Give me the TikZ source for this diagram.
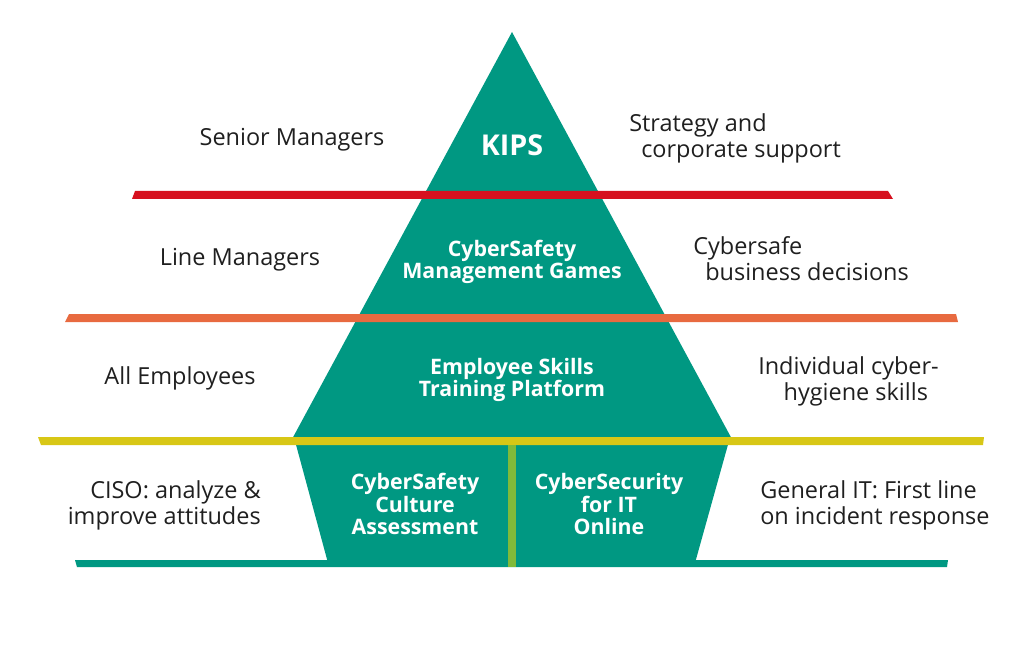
\documentclass[tikz,border=0pt]{standalone}
\usepackage{fontspec}
\setmainfont{Open Sans}
\usepackage{xcolor}
\usetikzlibrary{positioning}

\definecolor{kteal}{RGB}{0,152,130}
\definecolor{kred}{RGB}{214,16,30}
\definecolor{korange}{RGB}{232,106,64}
\definecolor{kyellow}{RGB}{216,199,22}
\definecolor{klime}{RGB}{128,186,58}

\begin{document}
\begin{tikzpicture}[
    x=0.75pt, y=-0.75pt,
    levelnode/.style={font=\fontsize{17.6}{19.5}\selectfont, text=black!88, inner sep=0pt},
    toolnode/.style={font=\fontsize{16}{17}\selectfont\bfseries, text=white, align=center, inner sep=0pt},
    bar/.style={draw=none}
]
\path[use as bounding box] (0,0) rectangle (1024,645);

% Pyramid
\fill[kteal] (512,32) -- (733,441) -- (291,441) -- cycle;
\fill[kteal] (295,441) -- (729,441) -- (695,563) -- (328,563) -- cycle;

% Level bars
\fill[kred] (135,191) -- (888,191) -- (893,199) -- (132,199) -- cycle;
\fill[korange] (69,314) -- (956,314) -- (958,322) -- (65,322) -- cycle;
\fill[kyellow] (38,437) -- (984,437) -- (983,445) -- (41,445) -- cycle;
\fill[kteal] (75,560) -- (948,560) -- (947,567) -- (77,567) -- cycle;
\fill[klime] (508,445) rectangle (516,567);

% Tools inside the pyramid
\node[toolnode, font=\fontsize{21.5}{24}\selectfont\bfseries] (kips) at (512,145) {KIPS};
\node[toolnode] (games) at (512,262) {CyberSafety\\Management Games};
\node[toolnode] (skills) at (512,380) {Employee Skills\\Training Platform};
\node[toolnode] (culture) at (415,504) {CyberSafety\\Culture\\Assessment};
\node[toolnode] (itonline) at (609,504) {CyberSecurity\\for IT\\Online};

% Audiences (left)
\node[levelnode] (senior) at (292,140) {Senior Managers};
\node[levelnode] (line) at (240,260) {Line Managers};
\node[levelnode] (all) at (180,378) {All Employees};
\node[levelnode, anchor=east, align=right] (ciso) at (261,505) {CISO: analyze \&\\improve attitudes};

% Outcomes (right)
\node[levelnode, anchor=west, align=left] (strategy) at (629,138) {Strategy and\\\hspace*{9pt}corporate support};
\node[levelnode, anchor=west, align=left] (decisions) at (693,259) {Cybersafe\\\hspace*{9pt}business decisions};
\node[levelnode, anchor=west, align=left] (hygiene) at (758,381) {Individual cyber-\\\hspace*{19pt}hygiene skills};
\node[levelnode, anchor=west, align=left] (general) at (760,505) {General IT: First line\\on incident response};

\end{tikzpicture}
\end{document}
